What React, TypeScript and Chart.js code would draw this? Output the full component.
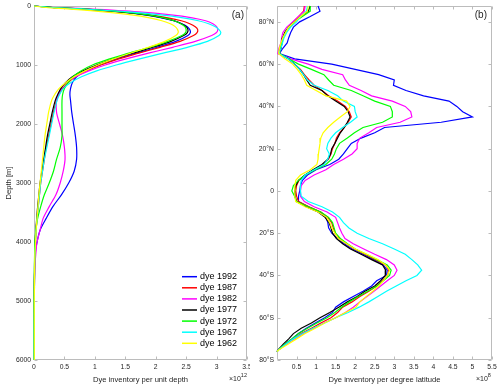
import React, { useEffect, useRef } from 'react';
import { Chart, registerables } from 'chart.js';

Chart.register(...registerables);

const seriesNames = ['dye 1992', 'dye 1987', 'dye 1982', 'dye 1977', 'dye 1972', 'dye 1967', 'dye 1962'];
const seriesColors = ['#0000ff', '#ff0000', '#ff00ff', '#000000', '#00ff00', '#00ffff', '#ffff00'];

// ---------- panel (a): dye inventory per unit depth (x 1e12) vs depth ----------
const depthTicks = [0, 1000, 2000, 3000, 4000, 5000, 6000];
const unitDepthTicks = [0, 0.5, 1, 1.5, 2, 2.5, 3, 3.5];

const depths = [0, 25, 50, 100, 150, 200, 250, 300, 350, 400, 450, 500, 600, 700, 800, 900, 1000, 1100, 1200, 1300, 1400, 1500, 1600, 1800, 2000, 2200, 2400, 2600, 2800, 3000, 3200, 3400, 3600, 3800, 4000, 4200, 4500, 5000, 5500, 6000];

const depth1992 = [0, 0.28, 0.72, 1.38, 1.82, 2.1, 2.3, 2.43, 2.52, 2.56, 2.57, 2.53, 2.33, 2.02, 1.68, 1.35, 1.07, 0.85, 0.7, 0.63, 0.6, 0.59, 0.6, 0.62, 0.65, 0.68, 0.7, 0.7, 0.66, 0.57, 0.45, 0.31, 0.2, 0.1, 0.05, 0.02, 0.01, 0.005, 0, 0];
const depth1987 = [0, 0.3, 0.75, 1.45, 1.9, 2.2, 2.42, 2.56, 2.65, 2.69, 2.68, 2.62, 2.4, 2.07, 1.72, 1.38, 1.1, 0.86, 0.68, 0.56, 0.47, 0.41, 0.37, 0.32, 0.28, 0.24, 0.2, 0.17, 0.14, 0.11, 0.09, 0.07, 0.05, 0.035, 0.025, 0.015, 0.01, 0.005, 0, 0];
const depth1982 = [0, 0.35, 0.9, 1.72, 2.25, 2.6, 2.82, 2.94, 3.0, 3.02, 3.0, 2.92, 2.65, 2.28, 1.88, 1.5, 1.17, 0.9, 0.68, 0.52, 0.45, 0.4, 0.37, 0.37, 0.42, 0.47, 0.5, 0.51, 0.48, 0.43, 0.36, 0.25, 0.15, 0.1, 0.05, 0.03, 0.01, 0.005, 0, 0];
const depth1977 = [0, 0.3, 0.75, 1.42, 1.85, 2.12, 2.3, 2.42, 2.5, 2.53, 2.52, 2.46, 2.25, 1.95, 1.62, 1.3, 1.03, 0.8, 0.63, 0.52, 0.44, 0.39, 0.35, 0.3, 0.26, 0.22, 0.19, 0.16, 0.13, 0.1, 0.08, 0.06, 0.045, 0.03, 0.02, 0.012, 0.008, 0.004, 0, 0];
const depth1972 = [0, 0.32, 0.78, 1.45, 1.87, 2.13, 2.3, 2.41, 2.48, 2.5, 2.49, 2.43, 2.2, 1.9, 1.56, 1.23, 0.96, 0.77, 0.64, 0.56, 0.5, 0.47, 0.46, 0.46, 0.46, 0.46, 0.43, 0.37, 0.32, 0.25, 0.17, 0.11, 0.06, 0.03, 0.015, 0.01, 0.005, 0, 0, 0];
const depth1967 = [0, 0.3, 0.78, 1.55, 2.08, 2.45, 2.7, 2.87, 2.98, 3.04, 3.07, 3.04, 2.85, 2.52, 2.12, 1.72, 1.35, 1.03, 0.78, 0.6, 0.48, 0.42, 0.38, 0.33, 0.29, 0.25, 0.21, 0.17, 0.14, 0.11, 0.09, 0.07, 0.05, 0.035, 0.025, 0.015, 0.01, 0.005, 0, 0];
const depth1962 = [0, 0.2, 0.55, 1.15, 1.6, 1.9, 2.1, 2.24, 2.32, 2.36, 2.37, 2.33, 2.15, 1.88, 1.58, 1.3, 1.05, 0.84, 0.66, 0.52, 0.41, 0.34, 0.29, 0.24, 0.21, 0.18, 0.16, 0.14, 0.12, 0.1, 0.08, 0.065, 0.05, 0.035, 0.025, 0.015, 0.01, 0.005, 0.005, 0.005];

// ---------- panel (b): dye inventory per degree latitude (x 1e8) vs latitude ----------
const latTicks = [-80, -60, -40, -20, 0, 20, 40, 60, 80];
const perLatTicks = [0, 0.5, 1, 1.5, 2, 2.5, 3, 3.5, 4, 4.5, 5, 5.5];

const latitudes = [87.5, 85, 82.5, 80, 77.5, 75, 72.5, 70, 67.5, 65, 62.5, 60, 57.5, 55, 52.5, 50, 47.5, 45, 42.5, 40, 37.5, 35, 32.5, 30, 27.5, 25, 22.5, 20, 17.5, 15, 12.5, 10, 7.5, 5, 2.5, 0, -2.5, -5, -7.5, -10, -12.5, -15, -17.5, -20, -22.5, -25, -27.5, -30, -32.5, -35, -37.5, -40, -42.5, -45, -47.5, -50, -52.5, -55, -57.5, -60, -62.5, -65, -67.5, -70, -72.5, -75, -76];

const lat1992 = [1.05, 1.1, 0.85, 0.58, 0.42, 0.35, 0.3, 0.26, 0.15, 0.06, 0.45, 1.4, 2.0, 2.6, 3.0, 2.98, 3.3, 3.75, 4.4, 4.6, 4.75, 5.0, 4.2, 2.75, 2.5, 2.15, 1.9, 1.8, 1.7, 1.58, 1.35, 1.0, 0.78, 0.65, 0.6, 0.58, 0.55, 0.55, 0.8, 1.1, 1.25, 1.3, 1.32, 1.4, 1.55, 1.72, 1.92, 2.2, 2.47, 2.72, 2.82, 2.8, 2.55, 2.42, 2.2, 1.95, 1.7, 1.5, 1.42, 1.22, 0.98, 0.75, 0.55, 0.38, 0.2, 0.05, 0];
const lat1987 = [0.7, 0.68, 0.55, 0.42, 0.3, 0.2, 0.15, 0.12, 0.1, 0.05, 0.28, 0.45, 0.6, 0.7, 0.82, 0.95, 1.15, 1.32, 1.55, 1.75, 1.85, 1.9, 1.82, 1.72, 1.6, 1.52, 1.48, 1.42, 1.38, 1.32, 1.18, 0.95, 0.72, 0.56, 0.5, 0.48, 0.5, 0.55, 0.82, 1.12, 1.3, 1.4, 1.44, 1.48, 1.6, 1.78, 1.98, 2.25, 2.52, 2.78, 2.86, 2.83, 2.7, 2.55, 2.35, 2.12, 1.92, 1.68, 1.55, 1.38, 1.12, 0.88, 0.62, 0.42, 0.22, 0.05, 0];
const lat1982 = [0.72, 0.7, 0.55, 0.4, 0.25, 0.15, 0.12, 0.1, 0.05, 0.02, 0.35, 0.8, 1.15, 1.68, 1.75, 1.85, 2.15, 2.42, 2.95, 3.28, 3.42, 3.45, 3.15, 2.55, 2.35, 2.12, 2.05, 2.05, 1.92, 1.7, 1.45, 1.25, 0.95, 0.72, 0.62, 0.6, 0.6, 0.7, 0.95, 1.28, 1.5, 1.55, 1.6, 1.66, 1.74, 1.95, 2.22, 2.5, 2.8, 3.0, 3.07, 3.0, 2.82, 2.65, 2.48, 2.3, 2.12, 1.95, 1.75, 1.5, 1.2, 0.95, 0.68, 0.45, 0.24, 0.05, 0];
const lat1977 = [0.85, 0.8, 0.6, 0.45, 0.3, 0.2, 0.15, 0.13, 0.1, 0.05, 0.3, 0.45, 0.58, 0.68, 0.76, 0.85, 1.15, 1.3, 1.5, 1.72, 1.82, 1.87, 1.8, 1.72, 1.62, 1.55, 1.48, 1.4, 1.37, 1.3, 1.15, 0.92, 0.72, 0.55, 0.48, 0.45, 0.46, 0.5, 0.75, 1.05, 1.23, 1.33, 1.38, 1.42, 1.52, 1.68, 1.88, 2.15, 2.42, 2.7, 2.78, 2.77, 2.65, 2.5, 2.25, 2.05, 1.8, 1.58, 1.35, 1.1, 0.88, 0.62, 0.42, 0.3, 0.16, 0.04, 0];
const lat1972 = [0.85, 0.85, 0.65, 0.45, 0.3, 0.22, 0.16, 0.12, 0.08, 0.06, 0.3, 0.55, 0.88, 1.2, 1.32, 1.45, 1.9, 2.2, 2.5, 2.9, 2.95, 2.95, 2.7, 2.2, 1.98, 1.8, 1.6, 1.52, 1.47, 1.4, 1.25, 0.98, 0.72, 0.55, 0.42, 0.38, 0.45, 0.5, 0.8, 1.12, 1.32, 1.42, 1.46, 1.5, 1.62, 1.8, 2.0, 2.28, 2.55, 2.82, 2.92, 2.88, 2.72, 2.56, 2.32, 2.08, 1.85, 1.65, 1.48, 1.28, 1.02, 0.78, 0.55, 0.38, 0.2, 0.05, 0];
const lat1967 = [0.78, 0.75, 0.6, 0.5, 0.35, 0.25, 0.18, 0.14, 0.1, 0.05, 0.28, 0.45, 0.58, 0.68, 0.78, 0.95, 1.3, 1.55, 1.7, 1.98, 2.0, 2.05, 1.88, 1.68, 1.5, 1.38, 1.3, 1.27, 1.34, 1.3, 1.2, 0.95, 0.72, 0.62, 0.6, 0.6, 0.62, 0.8, 1.15, 1.42, 1.6, 1.7, 1.84, 2.05, 2.35, 2.7, 3.0, 3.28, 3.45, 3.6, 3.7, 3.58, 3.3, 3.05, 2.8, 2.58, 2.35, 2.1, 1.82, 1.5, 1.22, 0.92, 0.65, 0.42, 0.22, 0.05, 0];
const lat1962 = [0.8, 0.78, 0.6, 0.45, 0.3, 0.22, 0.15, 0.1, 0.06, 0.04, 0.2, 0.4, 0.52, 0.62, 0.7, 0.76, 1.0, 1.25, 1.78, 1.87, 1.8, 1.62, 1.45, 1.3, 1.18, 1.12, 1.1, 1.08, 1.06, 1.05, 1.02, 0.85, 0.6, 0.48, 0.46, 0.45, 0.46, 0.48, 0.72, 1.05, 1.27, 1.35, 1.4, 1.48, 1.57, 1.78, 2.0, 2.3, 2.58, 2.78, 2.88, 2.82, 2.72, 2.6, 2.45, 2.28, 2.12, 2.02, 1.75, 1.5, 1.22, 0.98, 0.72, 0.5, 0.28, 0.06, 0];

const depthSeries = [depth1992, depth1987, depth1982, depth1977, depth1972, depth1967, depth1962];
const latSeries = [lat1992, lat1987, lat1982, lat1977, lat1972, lat1967, lat1962];

const FONT = '"Liberation Sans", Arial, Helvetica, sans-serif';
const TEXT = '#262626';
const FRAME = '#bcbcbc';

const framePlugin = {
  id: 'matlabFrame',
  beforeDatasetsDraw(chart: any) {
    const { ctx, chartArea: a, scales } = chart;
    const L = Math.round(a.left) + 0.5;
    const R = Math.round(a.right) - 0.5;
    const T = Math.round(a.top) + 0.5;
    const B = Math.round(a.bottom) - 0.5;
    const tl = 3;
    ctx.save();
    ctx.strokeStyle = FRAME;
    ctx.lineWidth = 1;
    ctx.beginPath();
    ctx.rect(L, T, R - L, B - T);
    scales.x.ticks.forEach((t: any) => {
      const x = Math.round(scales.x.getPixelForValue(t.value)) + 0.5;
      ctx.moveTo(x, B); ctx.lineTo(x, B - tl);
      ctx.moveTo(x, T); ctx.lineTo(x, T + tl);
    });
    scales.y.ticks.forEach((t: any) => {
      const y = Math.round(scales.y.getPixelForValue(t.value)) + 0.5;
      ctx.moveTo(L, y); ctx.lineTo(L + tl, y);
      ctx.moveTo(R, y); ctx.lineTo(R - tl, y);
    });
    ctx.stroke();
    ctx.restore();
  },
};

function makeAnnotations(id: string, panel: string, exponent: string, expOffset: number, panelOffset: number, showLegend: boolean) {
  return {
    id,
    afterDraw(chart: any) {
      const { ctx, chartArea: a } = chart;
      ctx.save();
      ctx.fillStyle = TEXT;
      ctx.textBaseline = 'middle';
      ctx.textAlign = 'right';
      ctx.font = `10px ${FONT}`;
      ctx.fillText(panel, a.right - panelOffset, a.top + 9);

      ctx.textAlign = 'left';
      ctx.textBaseline = 'alphabetic';
      ctx.font = `7px ${FONT}`;
      const x0 = a.right - expOffset;
      ctx.fillText('\u00d710', x0, a.bottom + 21);
      const w = ctx.measureText('\u00d710').width;
      ctx.font = `5.5px ${FONT}`;
      ctx.fillText(exponent, x0 + w, a.bottom + 17);

      if (showLegend) {
        ctx.font = `9px ${FONT}`;
        ctx.textBaseline = 'middle';
        seriesNames.forEach((name, i) => {
          const y = a.bottom - 83.3 + i * 11.1;
          ctx.strokeStyle = seriesColors[i];
          ctx.lineWidth = 1.5;
          ctx.beginPath();
          ctx.moveTo(a.right - 65, y);
          ctx.lineTo(a.right - 50, y);
          ctx.stroke();
          ctx.fillStyle = '#000';
          ctx.fillText(name, a.right - 47, y);
        });
      }
      ctx.restore();
    },
  };
}

const tickFont = { family: FONT, size: 6.8 };
const titleFont = { family: FONT, size: 7.6 };

function zeroPad(s: any) {
  s.paddingLeft = 0;
  s.paddingRight = 0;
  s.paddingTop = 0;
  s.paddingBottom = 0;
}

export default function App() {
  const leftRef = useRef<HTMLCanvasElement>(null);
  const rightRef = useRef<HTMLCanvasElement>(null);

  useEffect(() => {
    const left = new Chart(leftRef.current as HTMLCanvasElement, {
      type: 'scatter',
      data: {
        datasets: depthSeries.map((vals, i) => ({
          label: seriesNames[i],
          data: depths.map((d, j) => ({ x: vals[j], y: d })),
          showLine: true,
          borderColor: seriesColors[i],
          backgroundColor: seriesColors[i],
          borderWidth: 1.2,
          pointRadius: 0,
          tension: 0.3,
          order: seriesNames.length - 1 - i,
          clip: 2,
        })),
      },
      options: {
        animation: false,
        responsive: false,
        events: [],
        layout: { padding: { top: 6, right: 3, left: 0, bottom: 0 } },
        plugins: { legend: { display: false }, tooltip: { enabled: false } },
        scales: {
          x: {
            type: 'linear',
            position: 'bottom',
            min: 0,
            max: 3.5,
            grid: { display: false, drawTicks: false },
            border: { display: false },
            afterBuildTicks: (s: any) => { s.ticks = unitDepthTicks.map((v) => ({ value: v })); },
            afterFit: (s: any) => { s.height = 28; zeroPad(s); },
            ticks: { color: TEXT, font: tickFont, padding: 3, maxRotation: 0, autoSkip: false, callback: (v: any) => String(v) },
            title: { display: true, text: 'Dye inventory per unit depth', color: TEXT, font: titleFont, padding: { top: 0, bottom: 4 } },
          },
          y: {
            type: 'linear',
            reverse: true,
            min: 0,
            max: 6000,
            grid: { display: false, drawTicks: false },
            border: { display: false },
            afterBuildTicks: (s: any) => { s.ticks = depthTicks.map((v) => ({ value: v })); },
            afterFit: (s: any) => { s.width = 34; zeroPad(s); },
            ticks: { color: TEXT, font: tickFont, padding: 3, autoSkip: false, callback: (v: any) => String(v) },
            title: { display: true, text: 'Depth [m]', color: TEXT, font: titleFont, padding: { top: 4, bottom: 0 } },
          },
        },
      } as any,
      plugins: [framePlugin, makeAnnotations('annA', '(a)', '12', 18, 3, true)],
    });

    const right = new Chart(rightRef.current as HTMLCanvasElement, {
      type: 'scatter',
      data: {
        datasets: latSeries.map((vals, i) => ({
          label: seriesNames[i],
          data: latitudes.map((lat, j) => ({ x: vals[j], y: lat })),
          showLine: true,
          borderColor: seriesColors[i],
          backgroundColor: seriesColors[i],
          borderWidth: 1.2,
          pointRadius: 0,
          tension: 0,
          order: seriesNames.length - 1 - i,
          clip: 2,
        })),
      },
      options: {
        animation: false,
        responsive: false,
        events: [],
        layout: { padding: { top: 6, right: 8, left: 0, bottom: 0 } },
        plugins: { legend: { display: false }, tooltip: { enabled: false } },
        scales: {
          x: {
            type: 'linear',
            position: 'bottom',
            min: 0,
            max: 5.5,
            grid: { display: false, drawTicks: false },
            border: { display: false },
            afterBuildTicks: (s: any) => { s.ticks = perLatTicks.map((v) => ({ value: v })); },
            afterFit: (s: any) => { s.height = 28; zeroPad(s); },
            ticks: { color: TEXT, font: tickFont, padding: 3, maxRotation: 0, autoSkip: false, callback: (v: any) => (v === 0 ? '' : String(v)) },
            title: { display: true, text: 'Dye inventory per degree latitude', color: TEXT, font: titleFont, padding: { top: 0, bottom: 4 } },
          },
          y: {
            type: 'linear',
            min: -80,
            max: 87.5,
            grid: { display: false, drawTicks: false },
            border: { display: false },
            afterBuildTicks: (s: any) => { s.ticks = latTicks.map((v) => ({ value: v })); },
            afterFit: (s: any) => { s.width = 27; zeroPad(s); },
            ticks: {
              color: TEXT,
              font: tickFont,
              padding: 3,
              autoSkip: false,
              callback: (v: any) => (v === 0 ? '0' : v > 0 ? `${v}\u00b0N` : `${-v}\u00b0S`),
            },
          },
        },
      } as any,
      plugins: [framePlugin, makeAnnotations('annB', '(b)', '8', 16, 5, false)],
    });

    return () => {
      left.destroy();
      right.destroy();
    };
  }, []);

  return (
    <div style={{ position: 'fixed', left: 0, top: 0, width: 500, height: 388, background: '#fff' }}>
      <canvas ref={leftRef} width={250} height={388} style={{ position: 'absolute', left: 0, top: 0 }} />
      <canvas ref={rightRef} width={250} height={388} style={{ position: 'absolute', left: 250, top: 0 }} />
    </div>
  );
}
